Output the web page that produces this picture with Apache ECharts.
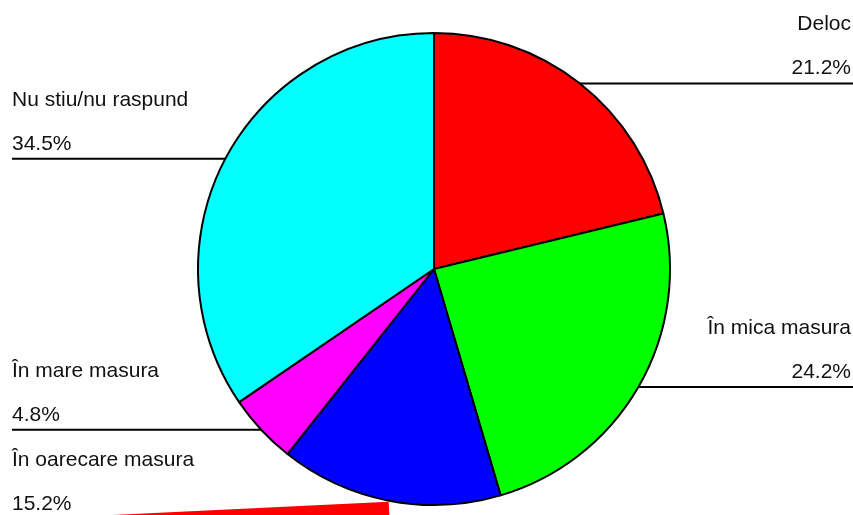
<!DOCTYPE html>
<html><head><meta charset="utf-8">
<script src="https://cdn.jsdelivr.net/npm/echarts@6/dist/echarts.min.js"></script>
<style>html,body{margin:0;padding:0;background:#fff}#c{width:853px;height:515px}</style>
</head><body><div id="c"></div>
<script>
const categories = ['Deloc', 'În mica masura', 'În oarecare masura', 'În mare masura', 'Nu stiu/nu raspund'];
const values = [21.2, 24.2, 15.2, 4.8, 34.5];
const colors = ['#ff0000', '#00ff00', '#0000ff', '#ff00ff', '#00ffff'];

const W = 853, CX = 434, CY = 269, R = 236;
const total = values.reduce((a, b) => a + b, 0);
let cum = 0;
const pts = values.map(v => {
  const mid = (cum + v / 2) / total * 2 * Math.PI;
  cum += v;
  return { x: CX + R * Math.sin(mid), y: CY - R * Math.cos(mid) };
});
const lineY = pts.map(p => p.y);
const MINGAP = 89;
['left', 'right'].forEach(side => {
  const idx = pts.map((p, i) => i)
    .filter(i => side === 'left' ? pts[i].x < CX : pts[i].x >= CX)
    .sort((a, b) => pts[a].y - pts[b].y);
  for (let k = 1; k < idx.length; k++) {
    if (lineY[idx[k]] < lineY[idx[k - 1]] + MINGAP) lineY[idx[k]] = lineY[idx[k - 1]] + MINGAP;
  }
});

const chart = echarts.init(document.getElementById('c'), null, { renderer: 'canvas' });
chart.setOption({
  animation: false,
  backgroundColor: '#ffffff',
  series: [{
    type: 'pie',
    center: [CX, CY],
    radius: R,
    startAngle: 90,
    clockwise: true,
    avoidLabelOverlap: false,
    emphasis: { disabled: true },
    itemStyle: { borderColor: '#000', borderWidth: 2 },
    label: {
      show: true,
      position: 'outside',
      formatter: '{b}\n{c}%',
      fontFamily: 'Liberation Sans, Arial, sans-serif',
      fontSize: 21,
      lineHeight: 44,
      color: '#111'
    },
    labelLine: { show: true, length: 0, length2: 0, lineStyle: { color: '#000', width: 2 } },
    labelLayout: function (params) {
      const i = params.dataIndex;
      const p = pts[i];
      const left = p.x < CX;
      const ly = lineY[i];
      let linePts;
      if (Math.abs(ly - p.y) > 1) {
        linePts = [[p.x, p.y + 8], [p.x, p.y + 8], [12, ly + 8]];
      } else if (left) {
        linePts = [[p.x, ly], [p.x, ly], [12, ly]];
      } else {
        linePts = [[p.x, ly], [p.x, ly], [W, ly]];
      }
      return {
        x: left ? 12 : 851,
        y: ly - 37,
        align: left ? 'left' : 'right',
        verticalAlign: 'middle',
        labelLinePoints: linePts
      };
    },
    data: categories.map((name, i) => {
      const d = { name: name, value: values[i], itemStyle: { color: colors[i] } };
      if (Math.abs(lineY[i] - pts[i].y) > 1) {
        d.labelLine = { lineStyle: { color: '#ff0000', width: 14 } };
      }
      return d;
    })
  }]
});
</script>
</body></html>
